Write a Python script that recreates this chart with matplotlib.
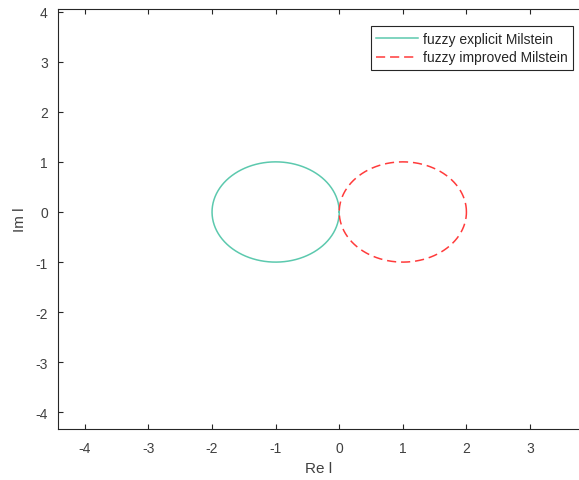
import numpy as np
import matplotlib
matplotlib.use('Agg')
import matplotlib.pyplot as plt

plt.rcParams['font.family'] = ['Liberation Sans', 'DejaVu Sans']
plt.rcParams['axes.unicode_minus'] = False

# two unit circles in the complex plane
labels = ['fuzzy explicit Milstein', 'fuzzy improved Milstein']
centers = [-1.0, 1.0]
radii = [1.0, 1.0]
colors = ['#5cc9ae', '#ff3b3b']
styles = ['-', (0, (6.0, 3.2))]

xticks = [-4, -3, -2, -1, 0, 1, 2, 3]
yticks = [-4, -3, -2, -1, 0, 1, 2, 3, 4]

fig = plt.figure(figsize=(5.79, 4.81), dpi=100)
ax = fig.add_axes([57.5 / 579, 1 - 429.5 / 481, 1 - 57.5 / 579, (429.5 - 10) / 481])

t = np.linspace(0, 2 * np.pi, 400)
for c, r, col, ls, lab in zip(centers, radii, colors, styles, labels):
    ax.plot(c + r * np.cos(t), r * np.sin(t), color=col, linestyle=ls, lw=1.1, label=lab)

ax.set_xlim(-4.43, 3.77)
ax.set_ylim(-4.32, 4.05)
ax.set_xticks(xticks)
ax.set_yticks(yticks)
ax.tick_params(axis='x', pad=9)
ax.tick_params(axis='y', pad=7)
ax.tick_params(direction='in', length=3.5, width=0.8, top=True, right=False,
               colors='#262626', labelcolor='#404040', labelsize=10)
ax.spines['right'].set_visible(False)
for s in ['left', 'top', 'bottom']:
    ax.spines[s].set_color('#262626')
    ax.spines[s].set_linewidth(0.8)

ax.set_xlabel('Re l', fontsize=11, color='#404040', labelpad=4.5)
ax.set_ylabel('Im l', fontsize=11, color='#404040', labelpad=6)

leg = ax.legend(loc='upper right', bbox_to_anchor=(573 / 579, 1 - 27 / 481),
                bbox_transform=fig.transFigure, fontsize=10, fancybox=False,
                framealpha=1, edgecolor='#262626', handlelength=3.0,
                handletextpad=0.35, borderpad=0.4, labelspacing=0.35, borderaxespad=0)
leg.get_frame().set_linewidth(0.8)
for txt in leg.get_texts():
    txt.set_color('#262626')

fig.savefig('out.png', dpi=100)
